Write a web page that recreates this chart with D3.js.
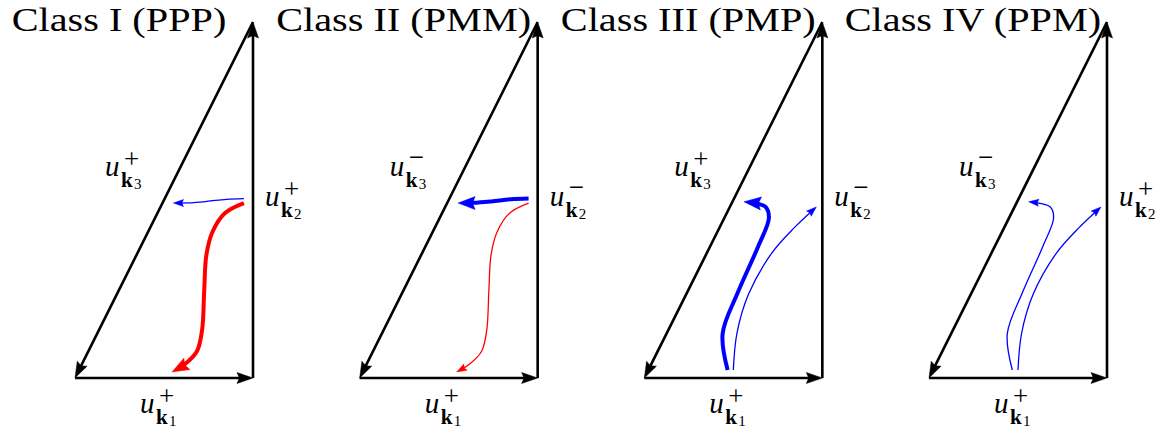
<!DOCTYPE html>
<html>
<head>
<meta charset="utf-8">
<script src="https://cdn.jsdelivr.net/npm/d3@7"></script>
<style>
  html, body { margin: 0; padding: 0; background: #fff; }
  svg { display: block; }
</style>
</head>
<body>
<svg id="fig" width="1175" height="435"></svg>
<script>
// Triad classes and the sign of each mode amplitude
const classTitles = ["Class I (PPP)", "Class II (PMM)", "Class III (PMP)", "Class IV (PPM)"];
const signK1 = ["+", "+", "+", "+"];
const signK2 = ["+", "\u2212", "\u2212", "+"];
const signK3 = ["+", "\u2212", "+", "\u2212"];

// Triangle of wave vectors in local units (k1 along the base, k2 up, k3 closing)
const triangleCorners = [[0, 0], [1, 0], [1, 2]];

// Energy-transfer routes, as points in the same local units (ending at the arrow tip)
const routeK2toK3 = [[0.949, 1.008], [0.85, 1.004], [0.74, 0.992], [0.64, 0.984], [0.553, 0.983]];
const routeK2toK1 = [[0.949, 0.983], [0.843, 0.927], [0.772, 0.82], [0.738, 0.69], [0.726, 0.494], [0.714, 0.27], [0.685, 0.15], [0.62, 0.08], [0.545, 0.034]];
const routeK1toK3 = [[0.468, 0.045], [0.44, 0.25], [0.525, 0.48], [0.64, 0.74], [0.70, 0.90], [0.68, 0.962], [0.56, 0.99]];
const routeK1toK2 = [[0.50, 0.045], [0.52, 0.25], [0.585, 0.47], [0.716, 0.702], [0.843, 0.845], [0.966, 0.961]];

// Which routes appear in each class, their colour and their strength
const classRoutes = [["k2k3", "k2k1"], ["k2k3", "k2k1"], ["k1k3", "k1k2"], ["k1k3", "k1k2"]];
const classHues = [["blue", "red"], ["blue", "red"], ["blue", "blue"], ["blue", "blue"]];
const classStrength = [["weak", "strong"], ["strong", "weak"], ["strong", "weak"], ["weak", "weak"]];

const routeOf = { k2k3: routeK2toK3, k2k1: routeK2toK1, k1k3: routeK1toK3, k1k2: routeK1toK2 };
const hueOf = { blue: "#0000ff", red: "#ff0000" };
const strokeOf = { strong: { w: 4, len: 17, wid: 13 }, weak: { w: 1.3, len: 10, wid: 7 } };

const svg = d3.select("#fig");
svg.append("rect").attr("width", 1175).attr("height", 435).attr("fill", "#fff");

// Panel placement and local scales
const panelX = d3.scaleLinear().domain([0, classTitles.length - 1]).range([75, 929]);
const x = d3.scaleLinear().domain([0, 1]).range([0, 178]);
const y = d3.scaleLinear().domain([0, 2]).range([378, 22]);

const line = d3.line().x(d => x(d[0])).y(d => y(d[1]));
const smooth = d3.line().x(d => x(d[0])).y(d => y(d[1])).curve(d3.curveCatmullRom.alpha(0.5));

// Draws a path with a filled arrowhead at its end
function arrow(g, d, colour, width, headLen, headWid) {
  const path = g.append("path")
    .attr("d", d).attr("fill", "none")
    .attr("stroke", colour).attr("stroke-width", width);
  const node = path.node();
  const total = node.getTotalLength();
  const tip = node.getPointAtLength(total);
  const back = node.getPointAtLength(Math.max(0, total - 3));
  const a = Math.atan2(tip.y - back.y, tip.x - back.x);
  const ux = Math.cos(a), uy = Math.sin(a);
  path.attr("stroke-dasharray", `${total - headLen * 0.6} ${total}`);
  const bx = tip.x - ux * headLen, by = tip.y - uy * headLen;
  const nx = -uy * headWid / 2, ny = ux * headWid / 2;
  const mx = tip.x - ux * headLen * 0.85, my = tip.y - uy * headLen * 0.85;
  g.append("path")
    .attr("d", `M${tip.x},${tip.y} L${bx + nx},${by + ny} L${mx},${my} L${bx - nx},${by - ny} Z`)
    .attr("fill", colour).attr("stroke", colour).attr("stroke-width", 0.5)
    .attr("stroke-linejoin", "miter");
}

// Mode label u_{k_i}^{±}, set as one text with positioned pieces
function modeLabel(g, ax, by, sign, idx) {
  const t = g.append("text")
    .attr("font-family", "'Liberation Serif', serif").attr("fill", "#000");
  t.append("tspan").attr("x", ax).attr("y", by)
    .attr("font-style", "italic").attr("font-size", 29).text("u");
  t.append("tspan").attr("x", ax + 19).attr("y", sign === "+" ? by - 8 : by - 10)
    .attr("font-size", 27).text(sign);
  t.append("tspan").attr("x", ax + 16).attr("y", by + 11)
    .attr("font-weight", "bold").attr("font-size", 21).text("k");
  t.append("tspan").attr("x", ax + 29).attr("y", by + 13)
    .attr("font-size", 15).text(idx);
}

classTitles.forEach((title, i) => {
  const g = svg.append("g").attr("transform", `translate(${panelX(i)},0)`);

  // Title
  g.append("text")
    .attr("transform", `translate(${x(0.247)},31) scale(1.22,1)`)
    .attr("text-anchor", "middle")
    .attr("font-family", "'Liberation Serif', serif").attr("font-size", 33)
    .attr("fill", "#000").text(title);

  // Triangle of wave vectors
  const [p0, p1, p2] = triangleCorners;
  arrow(g, line([p0, p1]), "#000", 2.6, 16, 11);
  arrow(g, line([p1, p2]), "#000", 2.6, 16, 11);
  arrow(g, line([p2, p0]), "#000", 2.6, 16, 11);

  // Transfer routes
  classRoutes[i].forEach((r, j) => {
    const s = strokeOf[classStrength[i][j]];
    arrow(g, smooth(routeOf[r]), hueOf[classHues[i][j]], s.w, s.len, s.wid);
  });

  // Mode labels
  modeLabel(g, 30, 176, signK3[i], "3");
  modeLabel(g, 190, 206, signK2[i], "2");
  modeLabel(g, 65, 413, signK1[i], "1");
});
</script>
</body>
</html>
